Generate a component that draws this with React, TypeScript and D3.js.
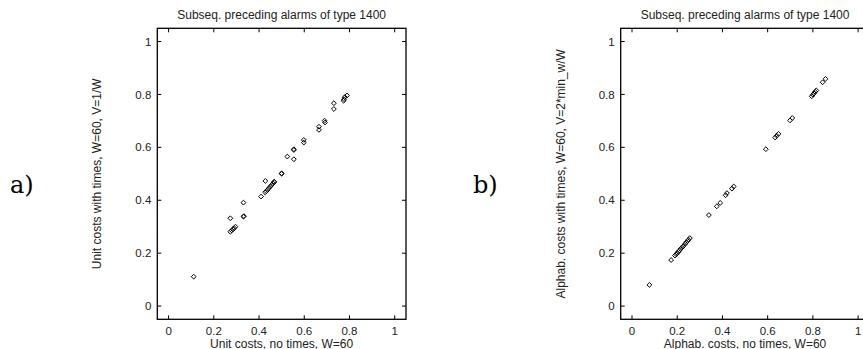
import React from "react";
import * as d3 from "d3";

const tickValues = [0, 0.2, 0.4, 0.6, 0.8, 1];
const tickLabels = ["0", "0.2", "0.4", "0.6", "0.8", "1"];
const titleText = "Subseq. preceding alarms of type 1400";

const unitX = [0.111, 0.273, 0.273, 0.279, 0.285, 0.29, 0.296, 0.331, 0.331, 0.333, 0.409, 0.428, 0.427, 0.432, 0.438, 0.444, 0.45, 0.456, 0.462, 0.467, 0.467, 0.5, 0.5, 0.525, 0.554, 0.554, 0.554, 0.598, 0.598, 0.665, 0.665, 0.69, 0.692, 0.731, 0.731, 0.774, 0.776, 0.779, 0.789];
const unitY = [0.111, 0.332, 0.281, 0.286, 0.291, 0.295, 0.3, 0.391, 0.338, 0.34, 0.414, 0.473, 0.43, 0.434, 0.44, 0.446, 0.452, 0.458, 0.464, 0.469, 0.47, 0.5, 0.502, 0.565, 0.593, 0.59, 0.555, 0.628, 0.618, 0.678, 0.666, 0.701, 0.694, 0.767, 0.745, 0.776, 0.782, 0.79, 0.796];

const alphaX = [0.077, 0.173, 0.19, 0.195, 0.2, 0.205, 0.21, 0.215, 0.222, 0.228, 0.235, 0.24, 0.246, 0.25, 0.256, 0.34, 0.375, 0.39, 0.414, 0.42, 0.442, 0.45, 0.592, 0.633, 0.64, 0.648, 0.699, 0.709, 0.795, 0.8, 0.805, 0.81, 0.815, 0.843, 0.856];
const alphaY = [0.08, 0.174, 0.191, 0.196, 0.2, 0.205, 0.21, 0.216, 0.222, 0.228, 0.235, 0.241, 0.246, 0.251, 0.257, 0.344, 0.377, 0.39, 0.419, 0.427, 0.444, 0.452, 0.593, 0.637, 0.644, 0.651, 0.702, 0.711, 0.793, 0.799, 0.804, 0.81, 0.815, 0.846, 0.859];

const FONT = "'Liberation Sans', Arial, sans-serif";

type PanelProps = {
  xs: number[];
  ys: number[];
  x0: number;
  x1: number;
  xLabel: string;
  yLabel: string;
  letter: string;
  letterX: number;
};

const diamond = (cx: number, cy: number, r: number) =>
  `M${cx},${cy - r}L${cx + r},${cy}L${cx},${cy + r}L${cx - r},${cy}Z`;

function Panel({ xs, ys, x0, x1, xLabel, yLabel, letter, letterX }: PanelProps) {
  const top = 28.3;
  const bottom = 319.3;
  const x = d3.scaleLinear().domain([-0.05, 1.05]).range([x0, x1]);
  const y = d3.scaleLinear().domain([-0.05, 1.05]).range([bottom, top]);
  const cx = (x0 + x1) / 2;
  const cy = (top + bottom) / 2;
  const tl = 4;
  return (
    <g>
      <text x={letterX} y={193} fontFamily="'DejaVu Serif', serif" fontSize={24} fill="#000">
        {letter}
      </text>
      <text x={cx} y={19} textAnchor="middle" fontFamily={FONT} fontSize={12} fill="#222">
        {titleText}
      </text>
      {tickValues.map((v, i) => (
        <g key={"t" + i}>
          <line x1={x(v)} x2={x(v)} y1={bottom} y2={bottom - tl} stroke="#000" strokeWidth={1} />
          <line x1={x(v)} x2={x(v)} y1={top} y2={top + tl} stroke="#000" strokeWidth={1} />
          <line x1={x0} x2={x0 + tl} y1={y(v)} y2={y(v)} stroke="#000" strokeWidth={1} />
          <line x1={x1} x2={x1 - tl} y1={y(v)} y2={y(v)} stroke="#000" strokeWidth={1} />
          <text x={x(v)} y={335} textAnchor="middle" fontFamily={FONT} fontSize={11.5} fill="#222">
            {tickLabels[i]}
          </text>
          <text x={x0 - 6} y={y(v) + 4.1} textAnchor="end" fontFamily={FONT} fontSize={11.5} fill="#222">
            {tickLabels[i]}
          </text>
        </g>
      ))}
      <rect x={x0} y={top} width={x1 - x0} height={bottom - top} fill="none" stroke="#000" strokeWidth={1.3} />
      <text x={cx} y={347.5} textAnchor="middle" fontFamily={FONT} fontSize={12} fill="#222">
        {xLabel}
      </text>
      <text
        transform={`translate(${x0 - 56},${cy}) rotate(-90)`}
        textAnchor="middle"
        fontFamily={FONT}
        fontSize={12}
        fill="#222"
      >
        {yLabel}
      </text>
      {xs.map((v, i) => (
        <path key={"p" + i} d={diamond(x(v), y(ys[i]), 2.4)} fill="none" stroke="#000" strokeWidth={1} />
      ))}
    </g>
  );
}

export default function App() {
  return (
    <svg
      width={863}
      height={349}
      style={{ position: "absolute", left: 0, top: 0, background: "#fff" }}
    >
      <rect width={863} height={349} fill="#fff" />
      <Panel
        xs={unitX}
        ys={unitY}
        x0={157.3}
        x1={406}
        xLabel="Unit costs, no times, W=60"
        yLabel="Unit costs with times, W=60, V=1/W"
        letter="a)"
        letterX={10}
      />
      <Panel
        xs={alphaX}
        ys={alphaY}
        x0={620.7}
        x1={869.4}
        xLabel="Alphab. costs, no times, W=60"
        yLabel="Alphab. costs with times, W=60, V=2*min_w/W"
        letter="b)"
        letterX={473}
      />
    </svg>
  );
}
